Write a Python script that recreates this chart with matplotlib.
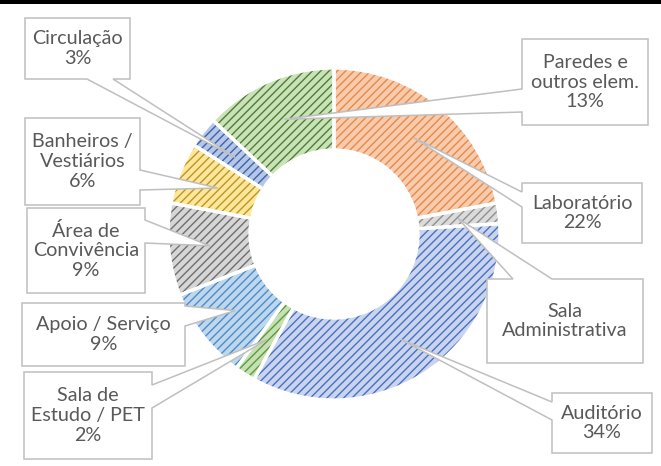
import matplotlib
matplotlib.use("Agg")
import matplotlib.pyplot as plt
from matplotlib.patches import Polygon, Rectangle
import numpy as np

# dados (percentuais por ambiente, sentido horario a partir do topo)
labels = ["Laboratório", "Sala Administrativa", "Auditório", "Sala de Estudo / PET",
          "Apoio / Serviço", "Área de Convivência", "Banheiros / Vestiários",
          "Circulação", "Paredes e outros elem."]
values = [22, 2, 34, 2, 9, 9, 6, 3, 13]
label_text = ["Laboratório\n22%", "Sala\nAdministrativa", "Auditório\n34%",
              "Sala de\nEstudo / PET\n2%", "Apoio / Serviço\n9%",
              "Área de\nConvivência\n9%", "Banheiros /\nVestiários\n6%",
              "Circulação\n3%", "Paredes e\noutros elem.\n13%"]

face_colors = ["#F8CBAD", "#DBDBDB", "#C9D5EF", "#C5E0B4", "#BDD7EE",
               "#D6D6D6", "#FFE699", "#B4C7E7", "#C9E2B8"]
hatch_colors = ["#E58A4A", "#8F8F8F", "#4C6FC0", "#5E9A3A", "#4F8BC4",
                "#6E6E6E", "#B8962A", "#3F62A8", "#4F7E35"]

# caixas dos rotulos em pixels (x0, y0, x1, y1, lado da seta, base a, base b)
boxes = [
    (522, 183, 642, 243, "left", 192, 207),
    (487, 279, 643, 363, "top", 513, 552),
    (552, 393, 652, 453, "left", 402, 420),
    (24, 372, 152, 459, "right", 385, 408),
    (22, 303, 185, 366, "right", 306, 326),
    (27, 208, 145, 293, "right", 220, 243),
    (25, 118, 140, 205, "right", 170, 190),
    (25, 18, 130, 79, "bottom", 87, 113),
    (522, 39, 648, 125, "left", 89, 112),
]

W, H = 661, 466
cx, cy = 334, 234
r_out, r_in = 166, 84

plt.rcParams["hatch.linewidth"] = 1.0

fig = plt.figure(figsize=(W / 100, H / 100), dpi=100)
ax = fig.add_axes([0, 0, 1, 1])

wedges, _ = ax.pie(values, radius=r_out, center=(cx, H - cy), startangle=90,
                   counterclock=False,
                   wedgeprops=dict(width=r_out - r_in, linewidth=0))
for w, fc, hc in zip(wedges, face_colors, hatch_colors):
    w.set_facecolor(fc)
    w.set_edgecolor(hc)
    w.set_hatch("////")
    w.set_linewidth(0)

ax.pie(values, radius=r_out, center=(cx, H - cy), startangle=90,
       counterclock=False,
       wedgeprops=dict(width=r_out - r_in, linewidth=2.4, edgecolor="white",
                       facecolor="none"))

# pontas das setas: meio de cada fatia
r_mid = (r_out + r_in) / 2
for w, txt, b in zip(wedges, label_text, boxes):
    ang = np.deg2rad((w.theta1 + w.theta2) / 2)
    tip = (w.center[0] + r_mid * np.cos(ang), w.center[1] + r_mid * np.sin(ang))
    x0, y0, x1, y1, side, a, bb = b
    Y0, Y1 = H - y0, H - y1
    tl, tr, br, bl = (x0, Y0), (x1, Y0), (x1, Y1), (x0, Y1)
    if side == "top":
        pts = [tl, (a, Y0), tip, (bb, Y0), tr, br, bl]
    elif side == "right":
        pts = [tl, tr, (x1, H - a), tip, (x1, H - bb), br, bl]
    elif side == "bottom":
        pts = [tl, tr, br, (bb, Y1), tip, (a, Y1), bl]
    else:
        pts = [tl, tr, br, bl, (x0, H - bb), tip, (x0, H - a)]
    ax.add_patch(Polygon(pts, closed=True, facecolor="white", edgecolor="#BFBFBF",
                         linewidth=1.1, zorder=3))
    ax.text((x0 + x1) / 2, H - (y0 + y1) / 2, txt, ha="center", va="center",
            fontsize=14.2, color="#595959", family=["Lato", "DejaVu Sans"],
            linespacing=1.2, zorder=4)

# linha preta no topo
ax.add_patch(Rectangle((0, H - 4), W, 4, facecolor="black", edgecolor="none", zorder=5))

ax.set_xlim(0, W)
ax.set_ylim(0, H)
ax.set_aspect("auto")
ax.axis("off")

plt.savefig("out.png", dpi=100)
